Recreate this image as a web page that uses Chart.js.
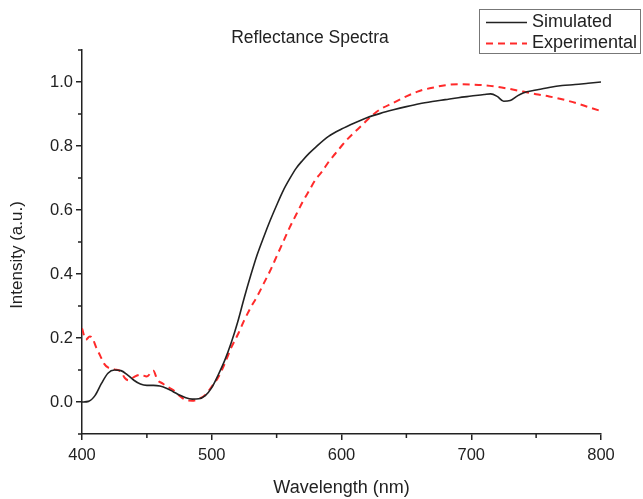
<!DOCTYPE html>
<html>
<head>
<meta charset="utf-8">
<script src="https://cdn.jsdelivr.net/npm/chart.js@4"></script>
<style>
  html, body { margin: 0; padding: 0; background: #fff; }
  #wrap { width: 643px; height: 499px; position: relative; }
</style>
</head>
<body>
<div id="wrap"><canvas id="chart" width="643" height="499"></canvas></div>
<script>
// wavelength (nm) / intensity
const sim_wavelength = [400, 405, 410, 415, 420, 425, 430, 435, 440, 445, 450, 455, 460, 465, 470, 475, 480, 485, 490, 495,
    500, 505, 510, 515, 520, 525, 530, 535, 540, 545, 550, 555, 560, 565, 570, 575, 580, 590, 600, 610, 620, 630, 640,
    650, 660, 670, 680, 690, 700, 710, 715, 720, 725, 730, 735, 740, 750, 760, 770, 780, 790, 800]
const sim_intensity = [0.0, 0.002, 0.02, 0.058, 0.09, 0.1, 0.098, 0.085, 0.068, 0.056, 0.052, 0.052, 0.05, 0.043, 0.033, 0.022, 0.013, 0.009, 0.01, 0.02,
    0.045, 0.085, 0.13, 0.185, 0.25, 0.325, 0.395, 0.46, 0.515, 0.567, 0.615, 0.66, 0.697, 0.73, 0.755, 0.777, 0.796, 0.83, 0.853, 0.872, 0.889, 0.902, 0.913,
    0.923, 0.932, 0.939, 0.945, 0.951, 0.956, 0.961, 0.963, 0.955, 0.94, 0.942, 0.955, 0.966, 0.975, 0.983, 0.989, 0.992, 0.996, 1.0]

const exp_wavelength = [400, 403, 406, 408, 411, 414, 417, 420, 425, 430, 433, 436, 440, 445, 450, 455, 458, 462, 466, 470,
    475, 480, 485, 490, 495, 500, 505, 510, 515, 520, 525, 530, 535, 540, 545, 550, 555, 560, 565, 570, 575, 580, 585,
    590, 595, 600, 605, 610, 615, 620, 625, 630, 640, 650, 660, 670, 680, 690, 700, 710, 720, 730, 740, 750, 760, 770, 780, 790, 800]
const exp_intensity = [0.23, 0.195, 0.205, 0.2, 0.17, 0.145, 0.12, 0.108, 0.102, 0.095, 0.075, 0.068, 0.078, 0.085, 0.08, 0.098, 0.07, 0.058, 0.047, 0.038,
    0.02, 0.006, 0.004, 0.01, 0.022, 0.048, 0.077, 0.12, 0.17, 0.21, 0.255, 0.295, 0.33, 0.37, 0.41, 0.455, 0.5, 0.545, 0.585, 0.625, 0.66, 0.695, 0.72,
    0.75, 0.775, 0.8, 0.823, 0.843, 0.862, 0.882, 0.9, 0.915, 0.935, 0.955, 0.972, 0.982, 0.99, 0.993, 0.992, 0.99, 0.985, 0.978, 0.97, 0.962, 0.955, 0.946, 0.935, 0.922, 0.909]

const series_labels = ['Simulated', 'Experimental']
const chart_title = 'Reflectance Spectra'
const x_title = 'Wavelength (nm)'
const y_title = 'Intensity (a.u.)'

const INK = '#222'
const RED = '#ff2a2a'
const FONT = "'Liberation Sans', Arial, sans-serif"

function to_points(xs, ys) {
    return xs.map((x, i) => ({ x, y: ys[i] }))
}

function is_major_y(v) { return Math.round(v * 10) % 2 === 0 }
function is_major_x(v) { return Math.round(v) % 100 === 0 }

// draws the short minor ticks, the titles and the boxed legend
const extras = {
    id: 'extras',
    afterDraw(chart) {
        const ctx = chart.ctx
        const { x, y } = chart.scales
        ctx.save()
        ctx.strokeStyle = INK
        ctx.lineWidth = 1.5
        ctx.beginPath()
        x.ticks.forEach(t => {
            if (is_major_x(t.value)) return
            const px = x.getPixelForValue(t.value)
            ctx.moveTo(px, y.bottom)
            ctx.lineTo(px, y.bottom + 4)
        })
        y.ticks.forEach(t => {
            if (is_major_y(t.value)) return
            const py = y.getPixelForValue(t.value)
            ctx.moveTo(x.left, py)
            ctx.lineTo(x.left - 4, py)
        })
        ctx.stroke()

        ctx.fillStyle = INK
        ctx.font = '17.5px ' + FONT
        ctx.textAlign = 'center'
        ctx.textBaseline = 'middle'
        ctx.fillText(chart_title, 310, 38)

        // y axis title sits a little below the axis middle in the original
        ctx.save()
        ctx.translate(17, 255)
        ctx.rotate(-Math.PI / 2)
        ctx.font = '17px ' + FONT
        ctx.fillText(y_title, 0, 0)
        ctx.restore()

        // legend
        ctx.strokeStyle = '#777'
        ctx.lineWidth = 1
        ctx.strokeRect(479.5, 9.5, 161, 44)
        ctx.textAlign = 'left'
        ctx.font = '18px ' + FONT
        chart.data.datasets.forEach((ds, i) => {
            const ly = 22.5 + i * 21
            ctx.strokeStyle = ds.borderColor
            ctx.lineWidth = ds.borderWidth
            ctx.setLineDash(ds.borderDash || [])
            ctx.beginPath()
            ctx.moveTo(486, ly)
            ctx.lineTo(527, ly)
            ctx.stroke()
            ctx.setLineDash([])
            ctx.fillStyle = INK
            ctx.fillText(ds.label, 532, ly)
        })
        ctx.restore()
    }
}

new Chart(document.getElementById('chart'), {
    type: 'line',
    data: {
        datasets: [
            {
                label: series_labels[0],
                data: to_points(sim_wavelength, sim_intensity),
                borderColor: INK,
                borderWidth: 1.6,
                pointRadius: 0,
                cubicInterpolationMode: 'monotone',
            },
            {
                label: series_labels[1],
                data: to_points(exp_wavelength, exp_intensity),
                borderColor: RED,
                borderWidth: 2,
                borderDash: [7, 5],
                pointRadius: 0,
                cubicInterpolationMode: 'monotone',
            }
        ]
    },
    options: {
        responsive: false,
        animation: false,
        layout: { padding: { top: 50, right: 42, left: 0, bottom: 0 } },
        plugins: {
            legend: { display: false },
            tooltip: { enabled: false },
            title: { display: false }
        },
        scales: {
            x: {
                type: 'linear',
                min: 400,
                max: 800,
                afterFit: scale => { scale.height = 65 },
                ticks: {
                    stepSize: 50,
                    autoSkip: false,
                    maxRotation: 0,
                    padding: 6,
                    color: INK,
                    font: { family: FONT, size: 16.5 },
                    callback: v => is_major_x(v) ? String(v) : ''
                },
                grid: {
                    drawOnChartArea: false,
                    drawTicks: true,
                    tickLength: 6,
                    lineWidth: 1.5,
                    color: ctx => ctx.tick && is_major_x(ctx.tick.value) ? INK : 'rgba(0,0,0,0)'
                },
                border: { display: true, color: INK, width: 1.5 },
                title: {
                    display: true,
                    text: x_title,
                    color: INK,
                    font: { family: FONT, size: 18 },
                    padding: { top: 0, bottom: 0 }
                }
            },
            y: {
                type: 'linear',
                min: -0.1,
                max: 1.1,
                afterFit: scale => { scale.width = 82 },
                ticks: {
                    stepSize: 0.1,
                    autoSkip: false,
                    padding: 3,
                    color: INK,
                    font: { family: FONT, size: 16.5 },
                    callback: v => is_major_y(v) ? (Math.round(v * 10) / 10).toFixed(1) : ''
                },
                grid: {
                    drawOnChartArea: false,
                    drawTicks: true,
                    tickLength: 6,
                    lineWidth: 1.5,
                    color: ctx => ctx.tick && is_major_y(ctx.tick.value) ? INK : 'rgba(0,0,0,0)'
                },
                border: { display: true, color: INK, width: 1.5 }
            }
        }
    },
    plugins: [extras]
})
</script>
</body>
</html>
